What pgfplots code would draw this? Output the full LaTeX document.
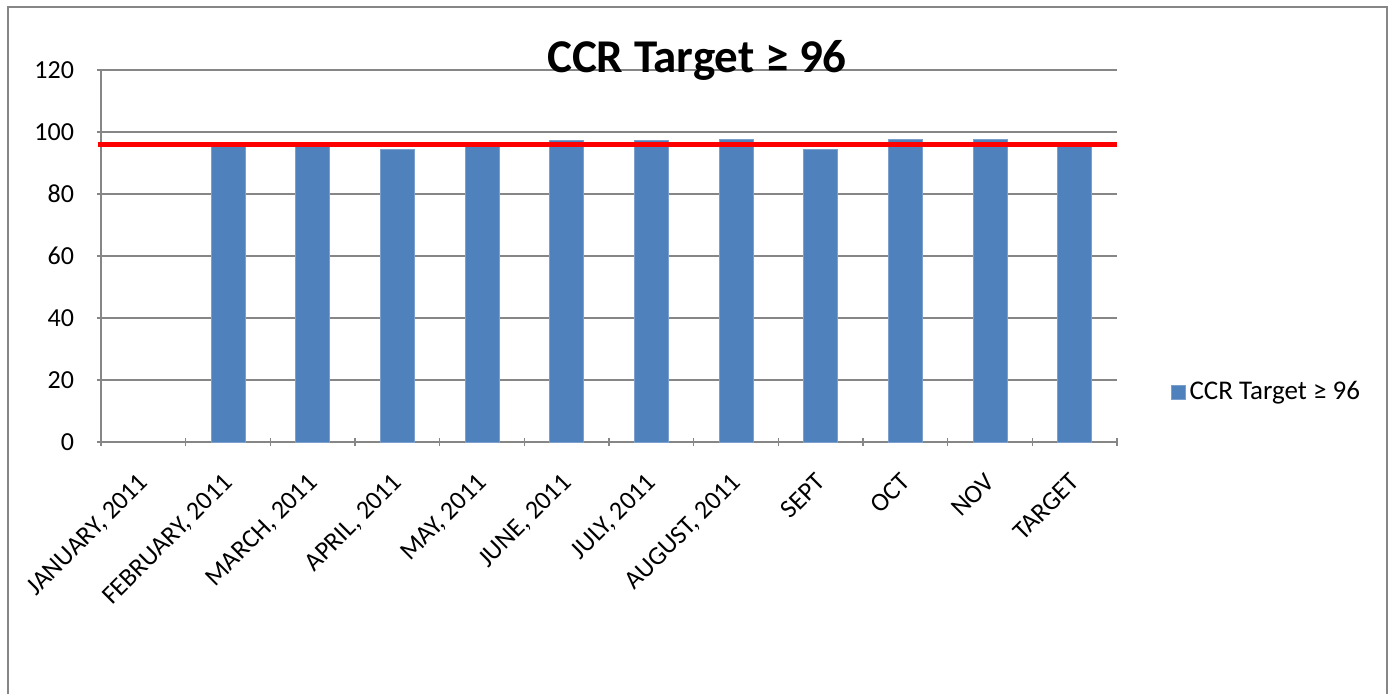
\documentclass[border=0pt]{standalone}
\usepackage{pgfplots}
\pgfplotsset{compat=1.18}
\usepackage{fontspec}
\setmainfont{Carlito}
\definecolor{barblue}{HTML}{4F81BD}
\definecolor{gridgray}{HTML}{868686}
\begin{document}
\begin{tikzpicture}
\useasboundingbox (-50.5pt,-126pt) rectangle (647pt,221pt);
\draw[gridgray, line width=1.1pt] (-46.5pt,-140pt) -- (-46.5pt,217.5pt) -- (643pt,217.5pt) -- (643pt,-140pt);
\begin{axis}[
  at={(0pt,0pt)}, anchor=south west,
  scale only axis, width=508pt, height=186pt,
  xmin=-0.5, xmax=11.5, ymin=0, ymax=120,
  ytick={0,20,...,120},
  xtick={0,...,11},
  xticklabels={{JANUARY, 2011},{FEBRUARY, 2011},{MARCH, 2011},{APRIL, 2011},{MAY, 2011},{JUNE, 2011},{JULY, 2011},{AUGUST, 2011},SEPT,OCT,NOV,TARGET},
  minor xtick={-0.5,0.5,...,11.5},
  major x tick style={draw=none},
  minor x tick style={gridgray, line width=0.6pt},
  minor tick length=4pt,
  major tick length=4pt,
  y tick style={gridgray, line width=0.6pt},
  tick align=outside,
  axis x line=bottom, axis y line=left,
  axis line style={gridgray, line width=0.6pt, -},
  ymajorgrids, grid style={gridgray, line width=0.6pt},
  /pgf/number format/assume math mode=true,
  ticklabel style={font=\fontsize{13}{15}\selectfont},
  xticklabel style={anchor=north east, inner sep=1pt, xshift=-3pt, yshift=-11.2pt, rotate=45},
  yticklabel style={xshift=-8pt},
  clip=false,
  legend style={at={(1.0525,0.134)}, anchor=west, draw=none, fill=none, font=\fontsize{13.5}{16}\selectfont, inner sep=0pt, legend cell align=left},
  legend image code/.code={\fill[#1] (0pt,-3.5pt) rectangle (7pt,3.5pt);},
]
\addplot[ybar, bar width=0.4, fill=barblue, draw=barblue!75!white, line width=0.4pt] coordinates {
(1,96.5) (2,96.4) (3,94.5) (4,96.5) (5,97.3) (6,97.3) (7,97.5) (8,94.5) (9,97.5) (10,97.5) (11,96)};
\addlegendentry{CCR Target ≥ 96}
\addplot[red, line width=2.5pt, forget plot] coordinates {(-0.53,96) (11.5,96)};
\end{axis}
\node[font=\fontsize{23.5}{27}\selectfont\bfseries] at (298pt,191pt) {CCR Target ≥ 96};
\end{tikzpicture}
\end{document}
